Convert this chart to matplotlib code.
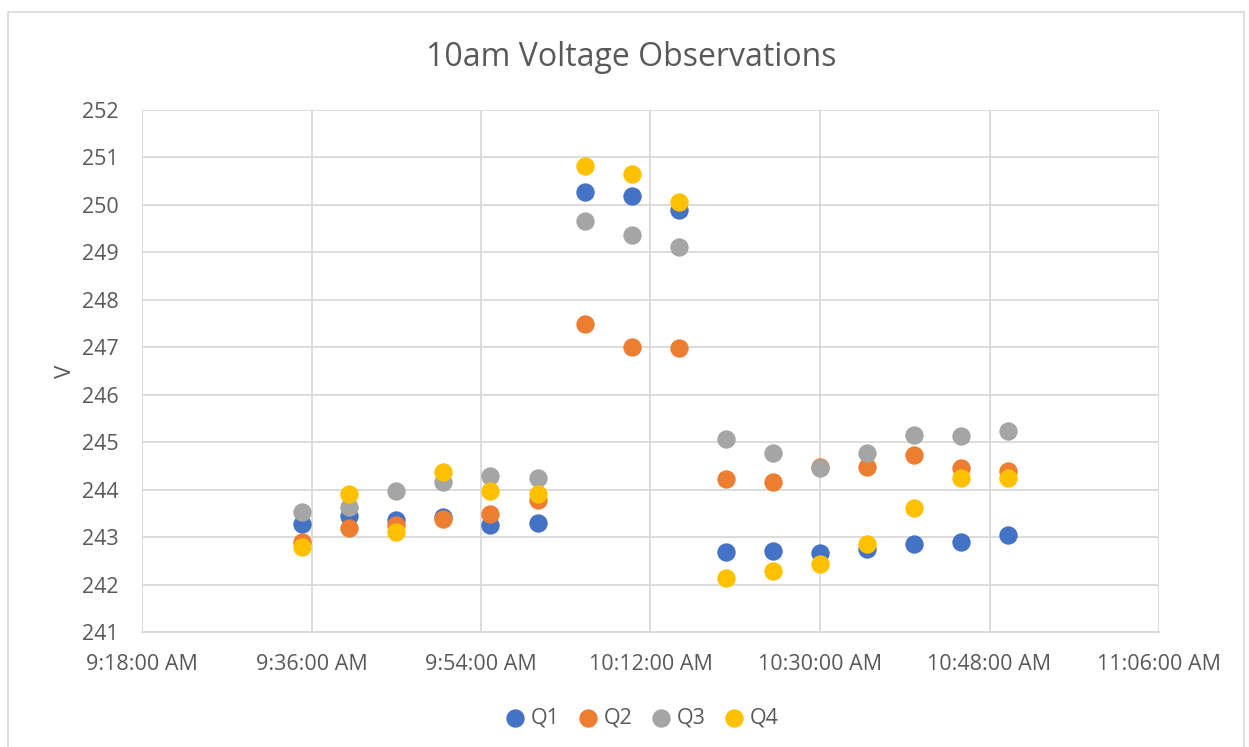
import datetime as dt

import matplotlib
matplotlib.use("Agg")
import matplotlib.pyplot as plt
import matplotlib.dates as mdates
from matplotlib.ticker import FuncFormatter

times = ["9:35", "9:40", "9:45", "9:50", "9:55", "10:00", "10:05", "10:10",
         "10:15", "10:20", "10:25", "10:30", "10:35", "10:40", "10:45", "10:50"]

q1 = [243.27, 243.44, 243.35, 243.43, 243.26, 243.30, 250.27, 250.18,
      249.89, 242.69, 242.71, 242.66, 242.74, 242.85, 242.90, 243.04]
q2 = [242.90, 243.20, 243.26, 243.38, 243.49, 243.78, 247.48, 247.01,
      246.99, 244.23, 244.16, 244.48, 244.48, 244.73, 244.46, 244.40]
q3 = [243.52, 243.64, 243.97, 244.17, 244.29, 244.25, 249.66, 249.37,
      249.12, 245.06, 244.78, 244.45, 244.77, 245.15, 245.12, 245.24]
q4 = [242.80, 243.90, 243.11, 244.37, 243.97, 243.91, 250.81, 250.65,
      250.07, 242.14, 242.29, 242.43, 242.85, 243.61, 244.24, 244.24]

series = [("Q1", q1, "#4472C4"), ("Q2", q2, "#ED7D31"),
          ("Q3", q3, "#A5A5A5"), ("Q4", q4, "#FFC000")]

day = dt.date(2020, 1, 1)
xs = [dt.datetime.combine(day, dt.datetime.strptime(t, "%H:%M").time()) for t in times]

plt.rcParams["font.family"] = ["Open Sans", "DejaVu Sans"]
text_col = "#595959"
grid_col = "#D9D9D9"

fig = plt.figure(figsize=(12.49, 7.47), dpi=100)
# outer chart frame
fig.patches.append(plt.Rectangle((8 / 1249, -0.01), 1236 / 1249, 1 - 12 / 747 + 0.01,
                                 transform=fig.transFigure, fill=False,
                                 edgecolor=grid_col, linewidth=1.2))
ax = fig.add_axes([142 / 1249, 1 - 632 / 747, 1017 / 1249, 522 / 747])

for name, vals, col in series:
    ax.scatter(xs, vals, s=175, color=col, label=name, zorder=3, linewidths=0)

xmin = dt.datetime.combine(day, dt.time(9, 18))
xmax = dt.datetime.combine(day, dt.time(11, 6))
ax.set_xlim(xmin, xmax)
ax.set_ylim(241, 252)
ax.set_yticks(range(241, 253))
xticks = [xmin + dt.timedelta(minutes=18 * i) for i in range(7)]
ax.set_xticks(xticks)


def fmt_time(v, pos):
    t = mdates.num2date(v)
    h = t.hour % 12 or 12
    return f"{h}:{t.minute:02d}:00 {'AM' if t.hour < 12 else 'PM'}"


ax.xaxis.set_major_formatter(FuncFormatter(fmt_time))
ax.grid(True, color=grid_col, linewidth=1.3, zorder=0)
for side in ["top", "right", "left"]:
    ax.spines[side].set_visible(False)
ax.spines["bottom"].set_color(grid_col)
ax.spines["bottom"].set_linewidth(1.3)
ax.tick_params(length=0, labelsize=15.5, labelcolor=text_col)
ax.tick_params(axis="x", pad=16)
ax.tick_params(axis="y", pad=17)

ax.set_ylabel("V", fontsize=16, color=text_col, labelpad=4)
fig.text(631 / 1249, 1 - 57 / 747, "10am Voltage Observations", fontsize=23,
         color=text_col, ha="center", va="center")

leg = ax.legend(loc="center", bbox_to_anchor=(642 / 1249, 1 - 718 / 747),
                bbox_transform=fig.transFigure, ncol=4, frameon=False,
                prop={"size": 15.5}, labelcolor=text_col, handlelength=0.9,
                handletextpad=0.25, columnspacing=0.9, markerscale=1.0)

fig.savefig("out.png", dpi=100)
